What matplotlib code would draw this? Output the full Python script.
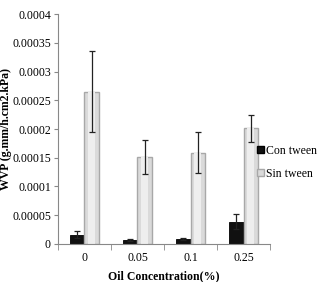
import matplotlib
matplotlib.use("Agg")
import matplotlib.pyplot as plt
import numpy as np
from matplotlib.patches import Patch

categories = ["0", "0.05", "0.1", "0.25"]
con_tween = [0.000016, 0.000007, 0.000009, 0.000039]
con_err = [0.0000065, 0.000002, 0.0000015, 0.000013]
sin_tween = [0.000265, 0.000151, 0.000159, 0.000201]
sin_err = [0.00007, 0.00003, 0.000036, 0.000024]
yticks = [0, 0.00005, 0.0001, 0.00015, 0.0002, 0.00025, 0.0003, 0.00035, 0.0004]
ytick_labels = ["0", "0.00005", "0.0001", "0.00015", "0.0002", "0.00025", "0.0003", "0.00035", "0.0004"]

plt.rcParams['font.family'] = ['Liberation Serif', 'DejaVu Serif']

fig = plt.figure(figsize=(3.2, 2.82), dpi=100)
ax = fig.add_axes([0.181, 0.135, 0.663, 0.815])

x = np.arange(len(categories))
w = 0.27
ax.bar(x - w/2, con_tween, w, color='#111111', edgecolor='#000000', linewidth=0.6,
       label='Con tween', zorder=2)
ax.bar(x + w/2, sin_tween, w, color='#dadada', edgecolor='#a8a8a8', linewidth=1.0,
       label='Sin tween', zorder=2)
# lighter inner highlight for cylinder look
ax.bar(x + w/2, sin_tween, w*0.45, color='#eeeeee', edgecolor='none', zorder=2.5)

ekw = dict(fmt='none', ecolor='#222222', elinewidth=0.9, capsize=2.5, capthick=0.9, zorder=4)
ax.errorbar(x - w/2, con_tween, yerr=con_err, **ekw)
ax.errorbar(x + w/2, sin_tween, yerr=sin_err, **ekw)

ax.set_xlim(-0.5, len(categories) - 0.5)
ax.set_ylim(0, 0.0004)
ax.set_yticks(yticks)
ax.set_yticklabels(ytick_labels, fontsize=8.5)
ax.set_xticks(x)
ax.set_xticklabels(categories, fontsize=8.5)
ax.set_xticks(np.arange(-0.5, len(categories), 1.0), minor=True)
ax.tick_params(axis='x', which='major', length=0, pad=6)
ax.tick_params(axis='x', which='minor', length=4, color='#888888', direction='out')
ax.tick_params(axis='y', length=3, color='#888888', direction='out', pad=2)

for s in ['top', 'right']:
    ax.spines[s].set_visible(False)
for s in ['left', 'bottom']:
    ax.spines[s].set_color('#888888')
    ax.spines[s].set_linewidth(0.8)

ax.set_xlabel("Oil Concentration(%)", fontsize=8.5, fontweight='bold', labelpad=4)
ax.set_ylabel("WVP (g.mm/h.cm2.kPa)", fontsize=8.5, fontweight='bold', va='center')
ax.yaxis.set_label_coords(-0.245, 0.5)

handles = [Patch(facecolor='#111111', edgecolor='#000000'),
           Patch(facecolor='#dadada', edgecolor='#a8a8a8')]
fig.legend(handles, ['Con tween', 'Sin tween'], loc='upper left',
           bbox_to_anchor=(0.77, 0.525), frameon=False, fontsize=8.5,
           handlelength=0.6, handleheight=0.6, handletextpad=0.2, labelspacing=0.95)

fig.savefig("out.png", dpi=100)
